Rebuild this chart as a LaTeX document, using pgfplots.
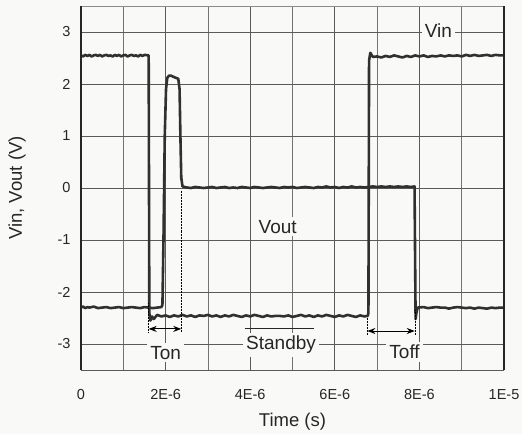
\documentclass[border=0pt]{standalone}
\usepackage{pgfplots}
\usepackage{pgfplotstable}
\pgfplotsset{compat=1.18}
\usepackage{fontspec}
\setmainfont{Liberation Sans}
\usetikzlibrary{arrows.meta}

\definecolor{bgc}{RGB}{249,249,247}
\definecolor{trace}{RGB}{48,48,48}
\definecolor{gridc}{RGB}{90,90,90}

% Vin (V) vs time (s)
\pgfplotstableread{
t v
0 2.55
0.05e-6 2.53
0.1e-6 2.56
0.15e-6 2.54
0.2e-6 2.56
0.25e-6 2.53
0.3e-6 2.55
0.35e-6 2.56
0.4e-6 2.54
0.45e-6 2.56
0.5e-6 2.53
0.55e-6 2.55
0.6e-6 2.56
0.65e-6 2.54
0.7e-6 2.55
0.75e-6 2.53
0.8e-6 2.56
0.85e-6 2.54
0.9e-6 2.56
0.95e-6 2.53
1.0e-6 2.55
1.05e-6 2.56
1.1e-6 2.53
1.15e-6 2.55
1.2e-6 2.56
1.25e-6 2.54
1.3e-6 2.55
1.35e-6 2.53
1.4e-6 2.56
1.45e-6 2.54
1.5e-6 2.56
1.6e-6 2.55
1.615e-6 -2.40
1.64e-6 -2.55
1.68e-6 -2.47
1.72e-6 -2.52
1.8e-6 -2.44
1.9e-6 -2.47
2.0e-6 -2.45
2.1e-6 -2.48
2.2e-6 -2.45
2.3e-6 -2.47
2.4e-6 -2.44
2.5e-6 -2.47
2.6e-6 -2.45
2.7e-6 -2.48
2.8e-6 -2.45
2.9e-6 -2.46
3.0e-6 -2.44
3.1e-6 -2.47
3.2e-6 -2.45
3.3e-6 -2.48
3.4e-6 -2.45
3.5e-6 -2.47
3.6e-6 -2.44
3.7e-6 -2.46
3.8e-6 -2.48
3.9e-6 -2.45
4.0e-6 -2.47
4.1e-6 -2.44
4.2e-6 -2.46
4.3e-6 -2.48
4.4e-6 -2.45
4.5e-6 -2.47
4.6e-6 -2.46
4.7e-6 -2.46
4.8e-6 -2.47
4.9e-6 -2.45
5.0e-6 -2.48
5.1e-6 -2.46
5.2e-6 -2.44
5.3e-6 -2.47
5.4e-6 -2.45
5.5e-6 -2.48
5.6e-6 -2.45
5.7e-6 -2.47
5.8e-6 -2.44
5.9e-6 -2.46
6.0e-6 -2.48
6.1e-6 -2.45
6.2e-6 -2.47
6.3e-6 -2.44
6.4e-6 -2.46
6.5e-6 -2.48
6.6e-6 -2.45
6.7e-6 -2.47
6.78e-6 -2.46
6.795e-6 -2.40
6.81e-6 2.45
6.84e-6 2.60
6.9e-6 2.52
7.0e-6 2.53
7.1e-6 2.51
7.2e-6 2.54
7.3e-6 2.52
7.4e-6 2.55
7.5e-6 2.53
7.6e-6 2.51
7.7e-6 2.54
7.8e-6 2.52
7.9e-6 2.55
8.0e-6 2.53
8.1e-6 2.55
8.2e-6 2.52
8.3e-6 2.54
8.4e-6 2.53
8.5e-6 2.55
8.6e-6 2.53
8.7e-6 2.55
8.8e-6 2.54
8.9e-6 2.55
9.0e-6 2.53
9.1e-6 2.56
9.2e-6 2.54
9.3e-6 2.56
9.4e-6 2.54
9.5e-6 2.55
9.6e-6 2.56
9.7e-6 2.54
9.8e-6 2.56
9.9e-6 2.55
1.0e-5 2.55
}\vin

% Vout (V) vs time (s)
\pgfplotstableread{
t v
0 -2.30
0.05e-6 -2.28
0.1e-6 -2.31
0.15e-6 -2.29
0.2e-6 -2.30
0.3e-6 -2.28
0.4e-6 -2.31
0.5e-6 -2.30
0.6e-6 -2.29
0.7e-6 -2.31
0.8e-6 -2.30
0.9e-6 -2.29
1.0e-6 -2.31
1.1e-6 -2.30
1.2e-6 -2.29
1.3e-6 -2.30
1.4e-6 -2.31
1.5e-6 -2.29
1.6e-6 -2.30
1.7e-6 -2.31
1.8e-6 -2.30
1.9e-6 -2.29
1.925e-6 -2.25
1.95e-6 -1.0
1.98e-6 1.0
2.01e-6 1.9
2.04e-6 2.12
2.08e-6 2.16
2.13e-6 2.16
2.18e-6 2.14
2.24e-6 2.12
2.30e-6 2.10
2.33e-6 1.9
2.35e-6 1.0
2.37e-6 0.2
2.40e-6 0.03
2.5e-6 0.01
2.6e-6 0.00
2.7e-6 0.02
2.8e-6 0.01
2.9e-6 0.00
3.0e-6 0.01
3.1e-6 0.02
3.2e-6 0.00
3.3e-6 0.01
3.4e-6 0.02
3.5e-6 0.00
3.6e-6 0.01
3.7e-6 0.00
3.8e-6 0.02
3.9e-6 0.01
4.0e-6 0.00
4.1e-6 0.02
4.2e-6 0.01
4.3e-6 0.00
4.4e-6 0.01
4.5e-6 0.02
4.6e-6 0.01
4.7e-6 0.00
4.8e-6 0.02
4.9e-6 0.01
5.0e-6 0.02
5.1e-6 0.00
5.2e-6 0.01
5.3e-6 0.02
5.4e-6 0.01
5.5e-6 0.00
5.6e-6 0.02
5.7e-6 0.01
5.8e-6 0.03
5.9e-6 0.01
6.0e-6 0.02
6.1e-6 0.00
6.2e-6 0.02
6.3e-6 0.01
6.4e-6 0.03
6.5e-6 0.01
6.6e-6 0.02
6.7e-6 0.01
6.8e-6 0.02
6.9e-6 0.03
7.0e-6 0.02
7.1e-6 0.03
7.2e-6 0.02
7.3e-6 0.03
7.4e-6 0.02
7.5e-6 0.03
7.6e-6 0.02
7.7e-6 0.03
7.8e-6 0.02
7.885e-6 0.03
7.90e-6 -1.5
7.91e-6 -2.52
7.93e-6 -2.40
7.96e-6 -2.30
8.1e-6 -2.29
8.2e-6 -2.31
8.3e-6 -2.30
8.4e-6 -2.29
8.5e-6 -2.30
8.6e-6 -2.30
8.7e-6 -2.32
8.8e-6 -2.30
8.9e-6 -2.29
9.0e-6 -2.30
9.1e-6 -2.31
9.2e-6 -2.30
9.3e-6 -2.32
9.4e-6 -2.30
9.5e-6 -2.31
9.6e-6 -2.32
9.7e-6 -2.30
9.8e-6 -2.31
9.9e-6 -2.30
1.0e-5 -2.30
}\vout

\begin{document}
\begin{tikzpicture}
\fill[bgc] (0,0) rectangle (522bp,434bp);
\begin{axis}[
    at={(81bp,64bp)}, anchor=south west,
    scale only axis,
    width=423bp, height=364bp,
    xmin=0, xmax=1e-5,
    ymin=-3.5, ymax=3.5,
    scaled x ticks=false,
    xtick={0,2e-6,4e-6,6e-6,8e-6,1e-5},
    minor xtick={1e-6,3e-6,5e-6,7e-6,9e-6},
    xticklabels={0,2E-6,4E-6,6E-6,8E-6,1E-5},
    ytick={-3,-2,-1,0,1,2,3},
    yticklabels={-3,-2,-1,0,1,2,3},
    xmajorgrids, xminorgrids, ymajorgrids,
    major grid style={gridc, line width=0.8bp},
    minor grid style={gridc!85, line width=0.8bp},
    axis line style={draw=none},
    tick pos=left, tick align=inside,
    major tick length=5bp, minor tick length=0pt,
    ytick style={draw=none},
    xtick style={gridc, line width=0.8bp},
    /pgf/number format/assume math mode=true,
    tick label style={font=\fontsize{14.5bp}{17bp}\selectfont, text=black!85},
    xticklabel style={anchor=center, yshift=-25bp},
    yticklabel style={anchor=east, xshift=-7bp},
    xlabel={Time (s)},
    ylabel={Vin, Vout (V)},
    label style={font=\fontsize{18.5bp}{21bp}\selectfont, text=black!85},
    xlabel style={at={(axis description cs:0.5,-0.143)}, anchor=center},
    ylabel style={at={(axis description cs:-0.151,0.5)}, anchor=center},
    clip=false,
]
\addplot[trace, line width=2.6bp, line join=round] table[x=t, y=v] {\vin};
\addplot[trace, line width=2.6bp, line join=round] table[x=t, y=v] {\vout};

% frame
\draw[gridc, line width=1bp] (rel axis cs:0,0) -- (rel axis cs:1,0);
\draw[gridc!70, line width=1bp] (rel axis cs:0,1) -- (rel axis cs:1,1);
\draw[black!85, line width=1.8bp] (rel axis cs:0,0) -- (rel axis cs:0,1);
\draw[black!85, line width=1.8bp] (rel axis cs:1,0) -- (rel axis cs:1,1);

% annotations
\tikzset{ann/.style={fill=bgc, inner sep=3bp, text=black!85, font=\fontsize{19bp}{22bp}\selectfont}}
\draw[densely dotted, line width=0.5bp] (axis cs:1.6e-6,-2.22) -- (axis cs:1.6e-6,-2.78);
\draw[densely dotted, line width=0.5bp] (axis cs:2.37e-6,-0.05) -- (axis cs:2.37e-6,-2.78);
\draw[{Stealth[length=8bp,width=6bp]}-{Stealth[length=8bp,width=6bp]}, line width=1bp]
    (axis cs:1.6e-6,-2.71) -- (axis cs:2.37e-6,-2.71);
\draw[densely dotted, line width=0.5bp] (axis cs:6.77e-6,-2.5) -- (axis cs:6.77e-6,-2.82);
\draw[densely dotted, line width=0.5bp] (axis cs:7.89e-6,-2.35) -- (axis cs:7.89e-6,-2.82);
\draw[{Stealth[length=8bp,width=6bp]}-{Stealth[length=8bp,width=6bp]}, line width=1bp]
    (axis cs:6.77e-6,-2.75) -- (axis cs:7.89e-6,-2.75);
\draw[black!85, line width=1bp] (axis cs:3.87e-6,-2.695) -- (axis cs:5.51e-6,-2.695);
\node[ann] at (axis cs:2.0e-6,-3.17) {Ton};
\node[ann] at (axis cs:4.73e-6,-3.02) {Standby};
\node[ann] at (axis cs:7.65e-6,-3.15) {Toff};
\node[ann] at (axis cs:4.65e-6,-0.745) {Vout};
\node[ann] at (axis cs:8.45e-6,3.03) {Vin};
\end{axis}
\pgfresetboundingbox
\useasboundingbox (0,0) rectangle (522bp,434bp);
\end{tikzpicture}
\end{document}
